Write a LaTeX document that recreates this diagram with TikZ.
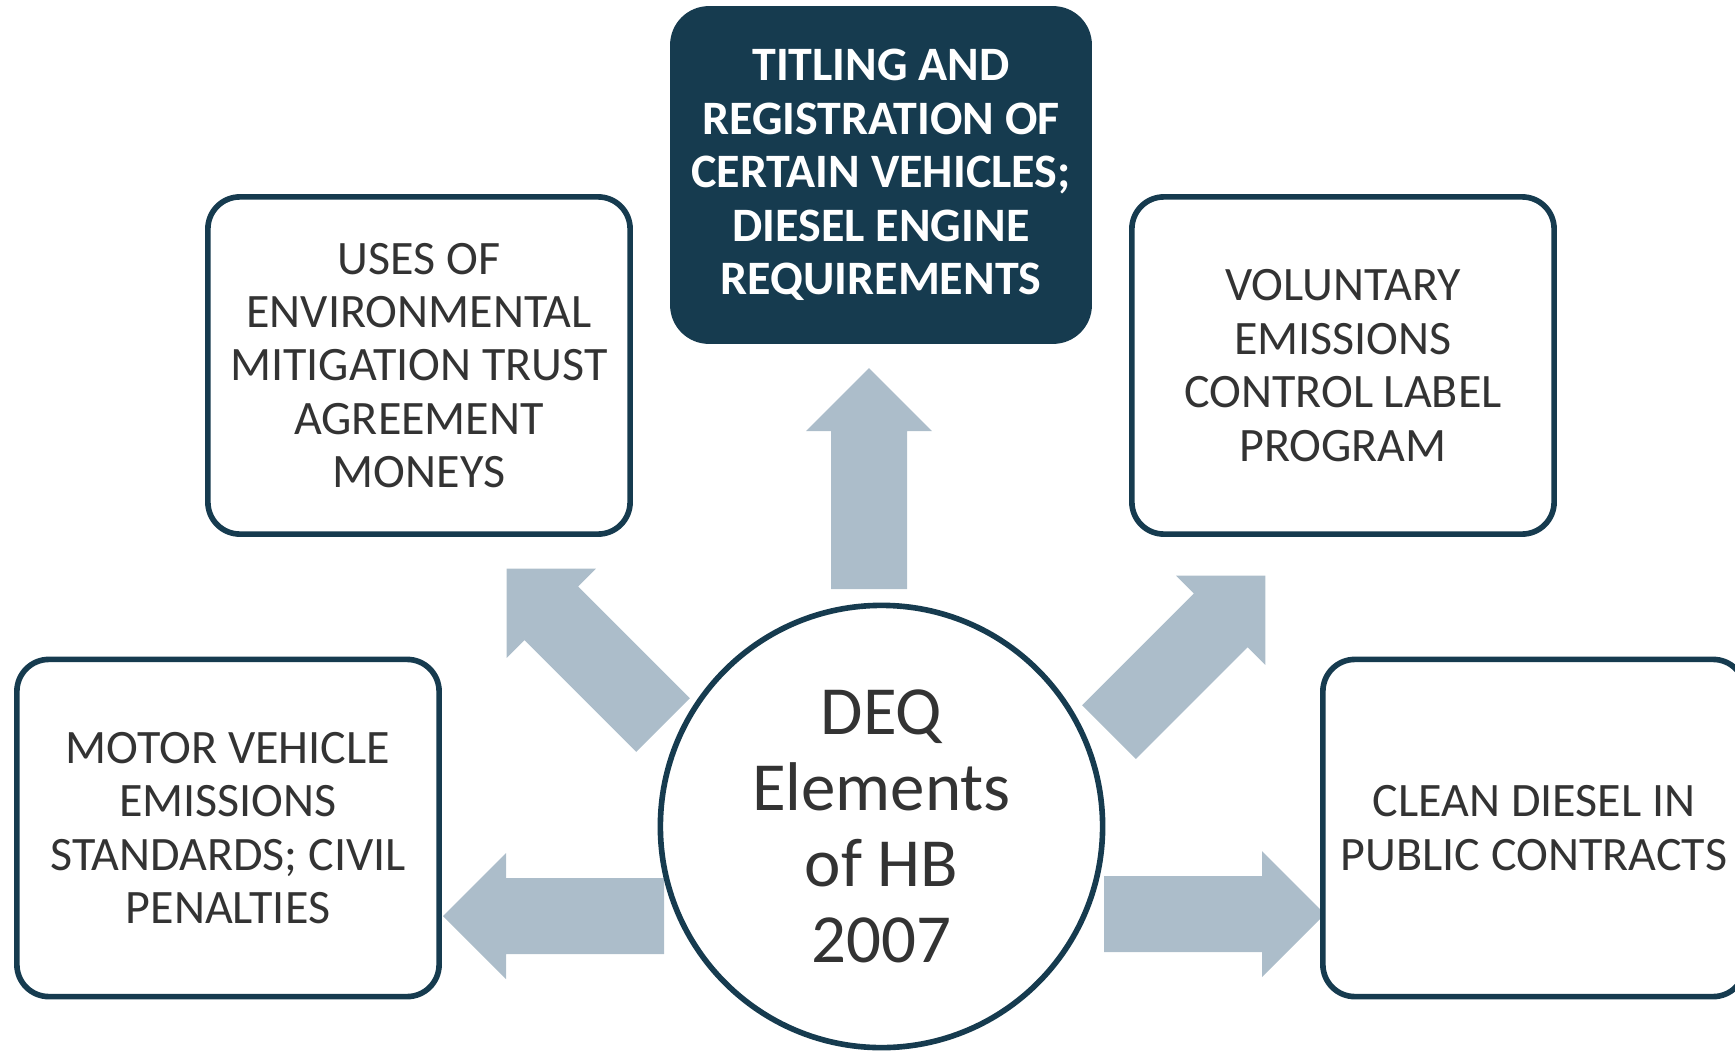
\documentclass[tikz,border=0pt]{standalone}
\usepackage{fontspec}
\setmainfont{Carlito}
\usepackage{xcolor}

\definecolor{deqnavy}{HTML}{163B4F}
\definecolor{deqarrow}{HTML}{ACBDCA}
\definecolor{deqtext}{HTML}{333333}

\tikzset{
  element/.style={draw=deqnavy, line width=1.6pt, rounded corners=0.32cm, fill=white,
    minimum width=4.22cm, minimum height=3.37cm, inner sep=0pt, align=center,
    text=deqtext, font=\fontsize{13.65}{15.2}\selectfont},
  keyelement/.style={element, fill=deqnavy, rounded corners=0.36cm,
    minimum width=4.16cm, minimum height=3.32cm, text=white,
    font=\fontsize{13.65}{15.2}\selectfont\bfseries},
  hub/.style={circle, draw=deqnavy, line width=1.6pt, fill=white, minimum size=4.42cm,
    inner sep=0pt, align=center, text=deqtext, font=\fontsize{19.6}{21.6}\selectfont},
  pics/blockarrow/.style={code={
    \fill[deqarrow] (0,-38) -- (158,-38) -- (158,-63) -- (221,0) -- (158,63)
      -- (158,38) -- (0,38) -- cycle;
  }}
}

\begin{document}
\begin{tikzpicture}[x=0.01cm, y=0.01cm]
  \useasboundingbox (0,0) rectangle (1735,1050);

  % arrows out of the hub
  \foreach \x/\y/\a in {869/461/90, 663/325/135, 1109/318/45, 664/134/180, 1104/136/0} {
    \pic[rotate=\a] at (\x,\y) {blockarrow};
  }

  \node[hub] (hb) at (881.5,223.5) {DEQ\\Elements\\of HB\\2007};

  \node[keyelement] (titling) at (881,875) {TITLING AND\\REGISTRATION OF\\CERTAIN VEHICLES;\\DIESEL ENGINE\\REQUIREMENTS};
  \node[element] (trust) at (419,684.5) {USES OF\\ENVIRONMENTAL\\MITIGATION TRUST\\AGREEMENT\\MONEYS};
  \node[element] (label) at (1343,684.5) {VOLUNTARY\\EMISSIONS\\CONTROL LABEL\\PROGRAM};
  \node[element] (motor) at (228,222) {MOTOR VEHICLE\\EMISSIONS\\STANDARDS; CIVIL\\PENALTIES};
  \node[element] (clean) at (1534,222) {CLEAN DIESEL IN\\PUBLIC CONTRACTS};

\end{tikzpicture}
\end{document}
